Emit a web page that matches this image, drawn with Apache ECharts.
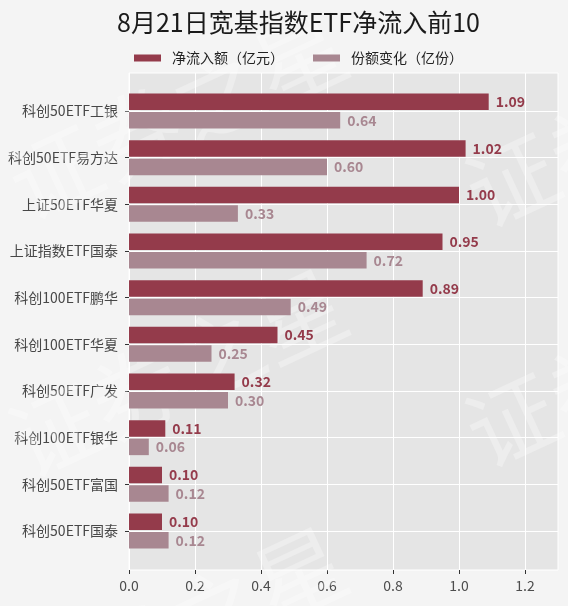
<!DOCTYPE html>
<html>
<head>
<meta charset="utf-8">
<script src="https://cdn.jsdelivr.net/npm/echarts@6/dist/echarts.min.js"></script>
<style>
html,body{margin:0;padding:0;background:#f4f4f4;}
#chart{width:568px;height:606px;}
</style>
</head>
<body>
<div id="chart"></div>
<script>
const titleText = '8月21日宽基指数ETF净流入前10';
const seriesNames = ['净流入额（亿元）', '份额变化（亿份）'];
const categories = ['科创50ETF工银', '科创50ETF易方达', '上证50ETF华夏', '上证指数ETF国泰', '科创100ETF鹏华', '科创100ETF华夏', '科创50ETF广发', '科创100ETF银华', '科创50ETF富国', '科创50ETF国泰'];
const netInflow = [1.09, 1.02, 1.00, 0.95, 0.89, 0.45, 0.32, 0.11, 0.10, 0.10];
const shareChange = [0.64, 0.60, 0.33, 0.72, 0.49, 0.25, 0.30, 0.06, 0.12, 0.12];
const xTicks = [0, 0.2, 0.4, 0.6, 0.8, 1.0, 1.2];
const xMax = 1.3;

const FONT = '"Noto Sans CJK SC", "Noto Sans", sans-serif';
const darkColor = '#943b4b';
const lightColor = '#a88791';

const wmRows = [[14, -67], [14, 191], [14, 449], [14, 707], [471, -59], [471, 199], [471, 439], [471, 697]];

const chart = echarts.init(document.getElementById('chart'), null, {renderer: 'canvas'});
chart.setOption({
  backgroundColor: '#f4f4f4',
  animation: false,
  textStyle: {fontFamily: FONT},
  title: {
    text: titleText, left: 112, top: 5,
    textStyle: {fontSize: 25, fontWeight: 'normal', color: '#1a1a1a', fontFamily: FONT}
  },
  legend: {
    data: seriesNames, left: 129, top: 46, icon: 'rect',
    itemWidth: 27, itemHeight: 7, itemGap: 29,
    textStyle: {fontSize: 14, color: '#222', fontFamily: FONT, padding: [0, 0, 0, 6]}
  },
  graphic: wmRows.map(p => ({
    type: 'text', x: p[0], y: p[1], rotation: 25 * Math.PI / 180, z: 1, silent: true,
    style: {text: '证券之星', font: '90px "Noto Sans CJK SC"', fill: 'rgba(255,255,255,0.3)', verticalAlign: 'middle', align: 'left'}
  })),
  grid: [
    {left: 129, right: 10, top: 73, bottom: 36, show: true, backgroundColor: '#e5e5e5', borderColor: '#ffffff', borderWidth: 1},
    {left: 129, right: 10, top: 111, bottom: 75}
  ],
  xAxis: [
    {
      gridIndex: 0, type: 'value', min: 0, max: xMax, interval: 0.2, offset: 2,
      axisLine: {show: false},
      axisTick: {show: true, length: 4, customValues: xTicks, lineStyle: {color: '#333'}},
      axisLabel: {customValues: xTicks, formatter: v => v.toFixed(1), fontSize: 14, color: '#4d4d4d', margin: 7, fontFamily: FONT},
      splitLine: {show: true, lineStyle: {color: '#ffffff', width: 1}}
    },
    {gridIndex: 1, type: 'value', min: 0, max: xMax, show: false, splitLine: {show: false}}
  ],
  yAxis: [
    {gridIndex: 0, type: 'value', min: 0, max: 1, show: false, splitLine: {show: false}},
    {
      gridIndex: 1, type: 'category', data: categories, inverse: true, boundaryGap: false, offset: 4,
      axisLine: {show: false},
      axisTick: {show: true, length: 4, lineStyle: {color: '#333'}},
      axisLabel: {margin: 7, fontSize: 14, color: '#474747', fontFamily: FONT},
      splitLine: {show: true, lineStyle: {color: '#ffffff', width: 1.2}}
    }
  ],
  series: [
    {
      name: seriesNames[0], type: 'bar', xAxisIndex: 1, yAxisIndex: 1, data: netInflow,
      barWidth: 16.5, barGap: '12%', z: 3,
      itemStyle: {color: darkColor},
      label: {show: true, position: 'right', distance: 7, formatter: p => p.value.toFixed(2), fontSize: 14, fontWeight: 'bold', color: darkColor, fontFamily: FONT}
    },
    {
      name: seriesNames[1], type: 'bar', xAxisIndex: 1, yAxisIndex: 1, data: shareChange,
      barWidth: 16.5, barGap: '12%', z: 3,
      itemStyle: {color: lightColor},
      label: {show: true, position: 'right', distance: 7, formatter: p => p.value.toFixed(2), fontSize: 14, fontWeight: 'bold', color: lightColor, fontFamily: FONT}
    }
  ]
});
</script>
</body>
</html>
